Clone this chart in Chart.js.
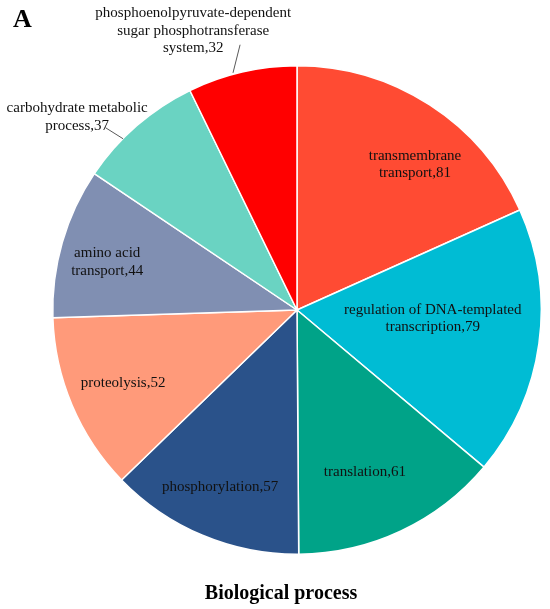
<!DOCTYPE html>
<html>
<head>
<meta charset="utf-8">
<script src="https://cdn.jsdelivr.net/npm/chart.js@4"></script>
<style>
  html, body { margin: 0; padding: 0; background: #ffffff; }
  #wrap { position: relative; width: 550px; height: 609px; }
</style>
</head>
<body>
<div id="wrap"><canvas id="c" width="550" height="609"></canvas></div>
<script>
// ---- data ----
const categories = [
  "transmembrane transport",
  "regulation of DNA-templated transcription",
  "translation",
  "phosphorylation",
  "proteolysis",
  "amino acid transport",
  "carbohydrate metabolic process",
  "phosphoenolpyruvate-dependent sugar phosphotransferase system"
];
const counts = [81, 79, 61, 57, 52, 44, 37, 32];
const labelLines = [
  ["transmembrane", "transport,81"],
  ["regulation of DNA-templated", "transcription,79"],
  ["translation,61"],
  ["phosphorylation,57"],
  ["proteolysis,52"],
  ["amino acid", "transport,44"],
  ["carbohydrate metabolic", "process,37"],
  ["phosphoenolpyruvate-dependent", "sugar phosphotransferase", "system,32"]
];
const chartTitle = "Biological process";
const panelLetter = "A";

// ---- styles ----
const colors = ["#FF4B33", "#00BCD4", "#00A388", "#2A528A", "#FF9A7A", "#808FB2", "#6AD3C2", "#FF0000"];
// label anchor (center of text block) relative to pie center, in units of radius
const labelAnchor = [
  [0.483, -0.595], [0.556, 0.035], [0.278, 0.665], [-0.315, 0.726],
  [-0.712, 0.300], [-0.777, -0.196], [-0.900, -0.789], [-0.425, -1.143]
];
// leader lines [startX, startY, endX, endY] in radius units (null = none)
const leaders = [null, null, null, null, null, null,
  [-0.785, -0.747, -0.712, -0.701],
  [-0.233, -1.086, -0.262, -0.971]
];

const labelPlugin = {
  id: 'sliceLabels',
  afterDatasetsDraw(chart) {
    const ctx = chart.ctx;
    const meta = chart.getDatasetMeta(0);
    const arc0 = meta.data[0];
    const cx = arc0.x, cy = arc0.y, R = arc0.outerRadius;
    ctx.save();
    ctx.font = '15px "Liberation Serif", "Times New Roman", serif';
    ctx.fillStyle = '#111111';
    ctx.textAlign = 'center';
    ctx.textBaseline = 'middle';
    const lh = 17.5;
    meta.data.forEach((arc, i) => {
      const [fx, fy] = labelAnchor[i];
      const x = cx + fx * R, y = cy + fy * R;
      const lines = labelLines[i];
      const y0 = y - (lines.length - 1) * lh / 2;
      lines.forEach((t, k) => ctx.fillText(t, x, y0 + k * lh));
      const L = leaders[i];
      if (L) {
        ctx.strokeStyle = '#595959';
        ctx.lineWidth = 1;
        ctx.beginPath();
        ctx.moveTo(cx + L[0] * R, cy + L[1] * R);
        ctx.lineTo(cx + L[2] * R, cy + L[3] * R);
        ctx.stroke();
      }
    });
    // panel letter
    ctx.textAlign = 'left';
    ctx.textBaseline = 'alphabetic';
    ctx.font = 'bold 26px "Liberation Serif", "Times New Roman", serif';
    ctx.fillStyle = '#000000';
    ctx.fillText(panelLetter, 13, 27);
    // title
    ctx.textAlign = 'center';
    ctx.font = 'bold 20px "Liberation Serif", "Times New Roman", serif';
    ctx.fillText(chartTitle, 281, 599);
    ctx.restore();
  }
};

new Chart(document.getElementById('c'), {
  type: 'pie',
  data: {
    labels: categories,
    datasets: [{
      data: counts,
      backgroundColor: colors,
      borderColor: '#ffffff',
      borderWidth: 1.5
    }]
  },
  options: {
    responsive: false,
    animation: false,
    rotation: 0,
    layout: { padding: { left: 52, right: 8, top: 65, bottom: 54 } },
    plugins: {
      legend: { display: false },
      tooltip: { enabled: false },
      title: { display: false }
    }
  },
  plugins: [labelPlugin]
});
</script>
</body>
</html>
